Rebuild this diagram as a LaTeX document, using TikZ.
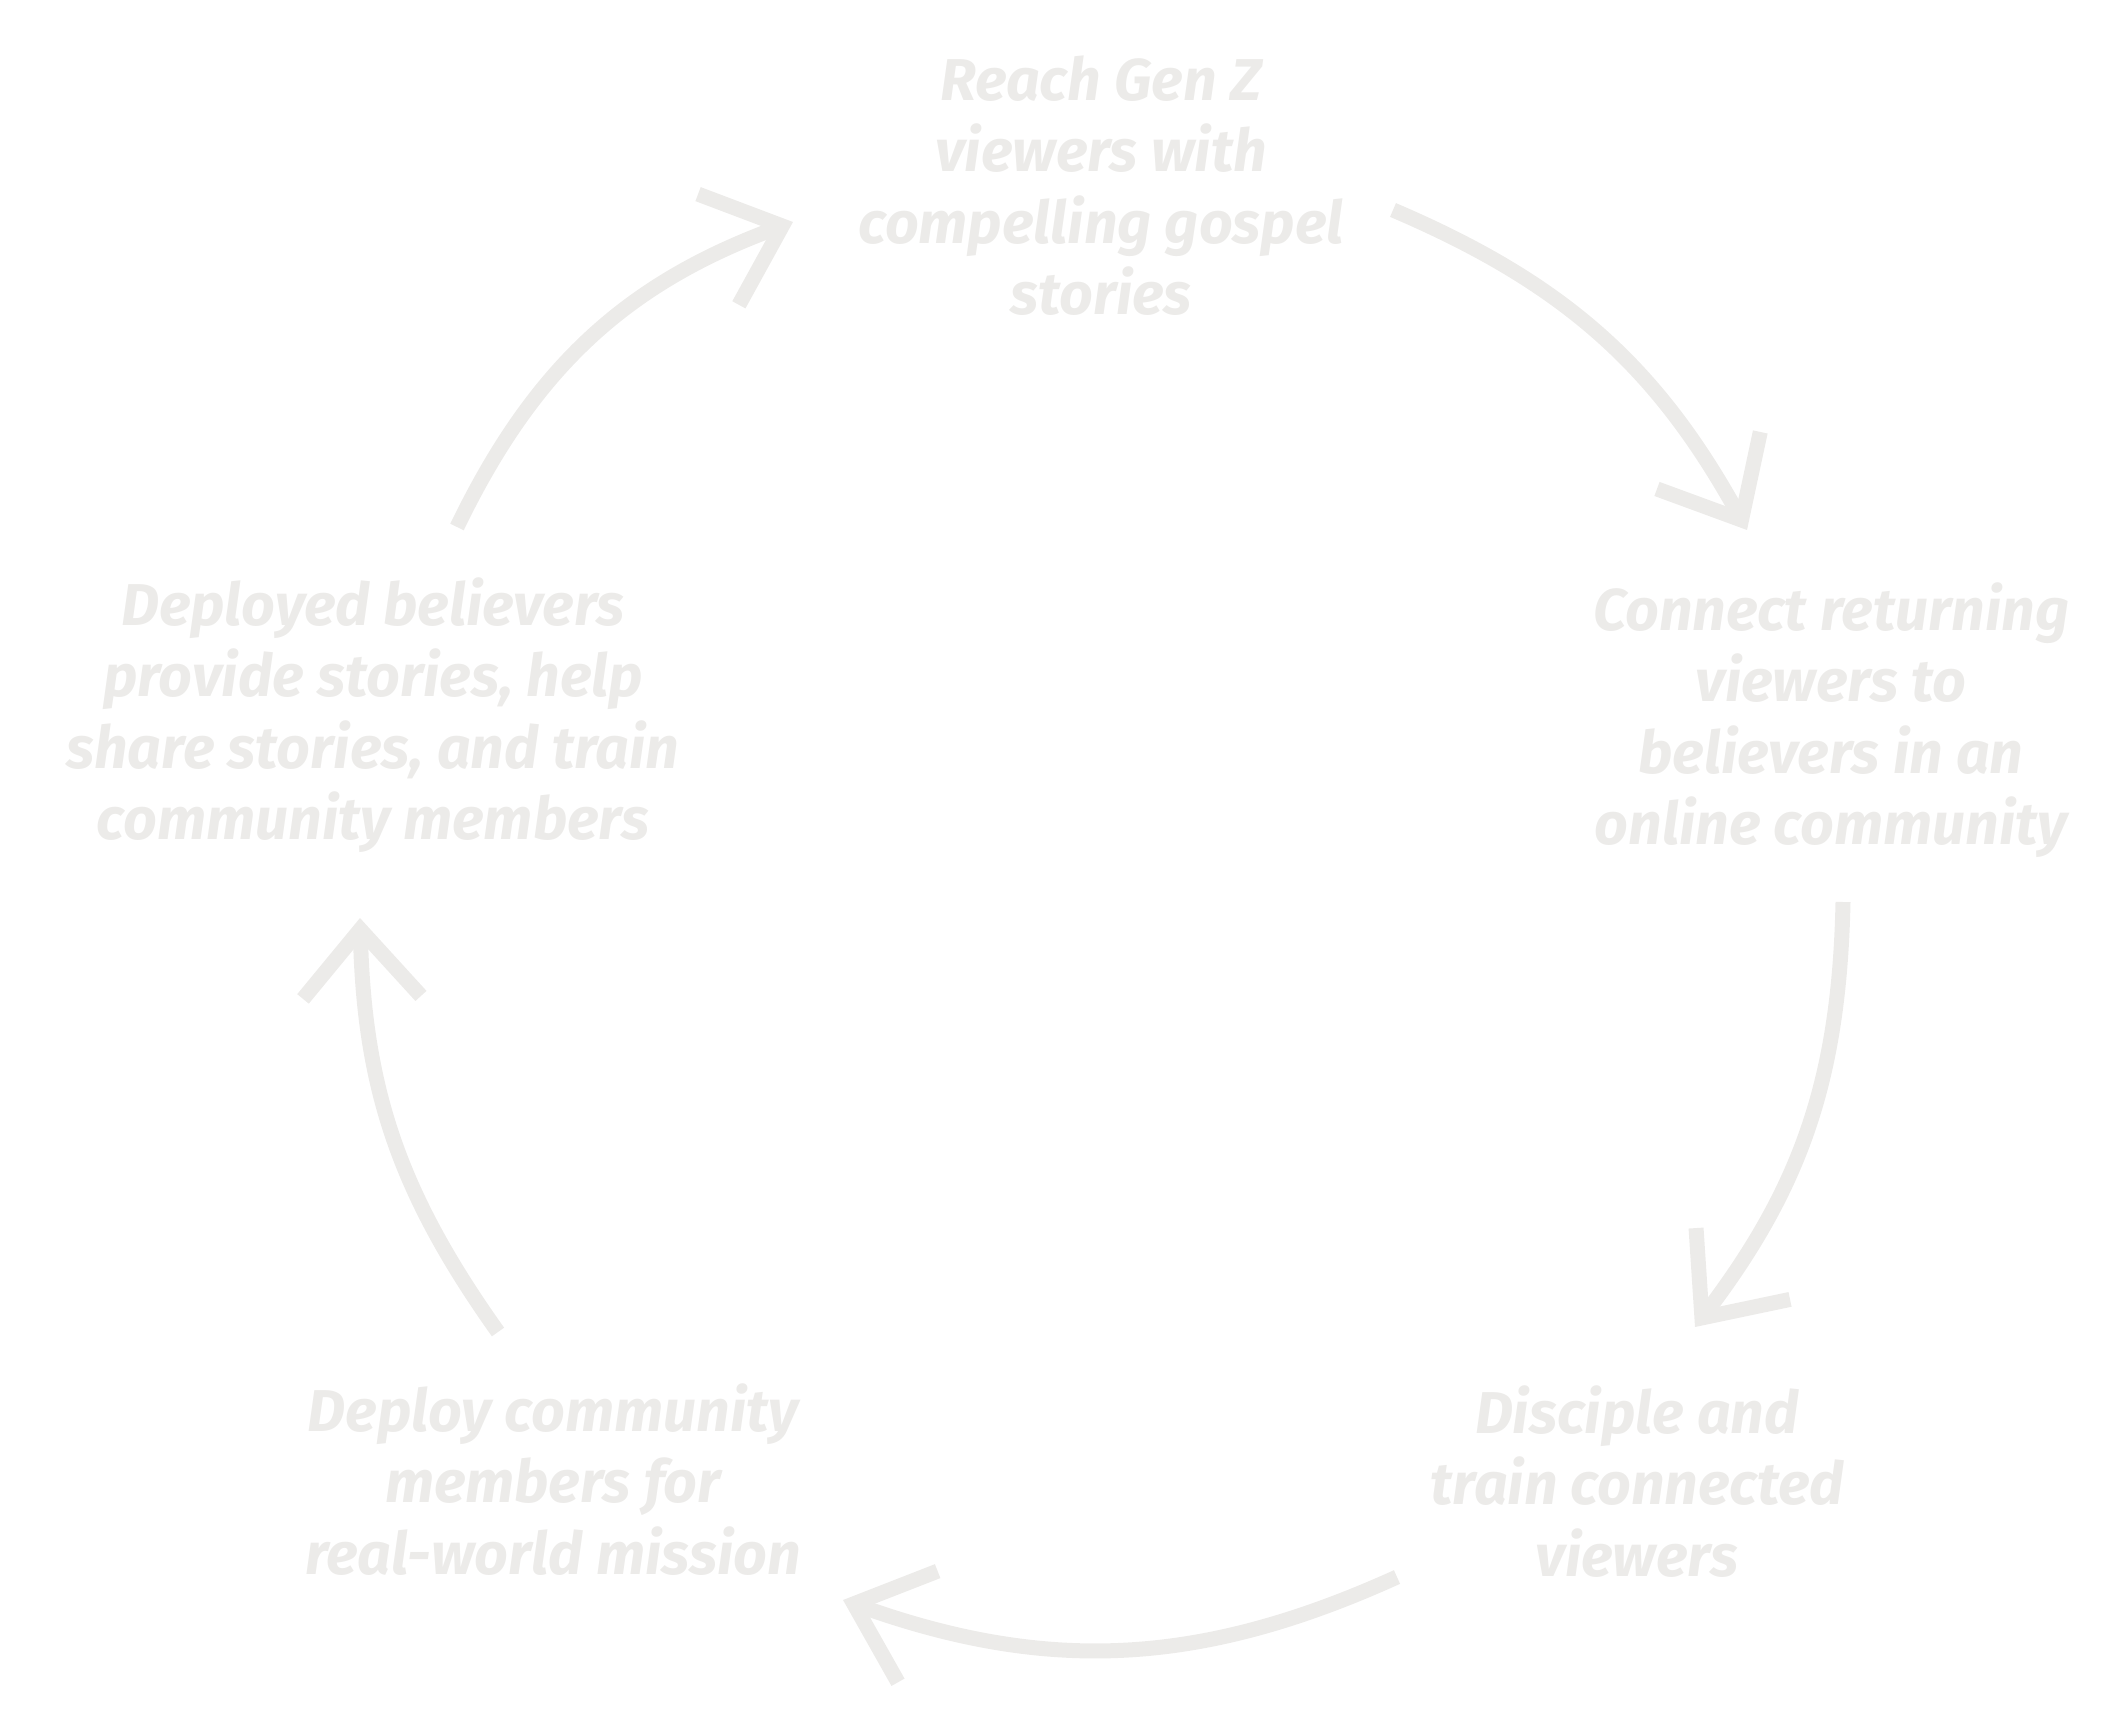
\documentclass[tikz,border=0pt]{standalone}
\usepackage{fontspec}
\setmainfont{Fira Sans}
\usetikzlibrary{arrows.meta}
\definecolor{cyclegray}{RGB}{236,235,233}

\begin{document}
\begin{tikzpicture}[x=1pt,y=1pt,yscale=-1,
  cycletext/.style={anchor=north,inner sep=0pt,align=center,text=cyclegray,
    font=\fontsize{59}{71.5}\selectfont\bfseries\itshape},
  cyclearrow/.style={draw=cyclegray,line width=15pt,
    -{Straight Barb[length=68pt,width=118pt]}}]
\useasboundingbox (0,0) rectangle (2117,1726);

% Text Nodes
\node[cycletext] (reach) at (1101,50) {\rule{0pt}{50pt}Reach Gen Z\\ viewers with\\ compelling gospel\\ stories};
\node[cycletext] (connect) at (1831,580) {\rule{0pt}{50pt}Connect returning\\ viewers to\\ believers in an\\ online community};
\node[cycletext] (disciple) at (1637,1383) {\rule{0pt}{50pt}Disciple and\\ train connected\\ viewers};
\node[cycletext] (deploy) at (553,1381) {\rule{0pt}{50pt}Deploy community\\ members for\\ real-world mission};
\node[cycletext] (deployed) at (373,575) {\rule{0pt}{50pt}Deployed believers\\ provide stories, help\\ share stories, and train\\ community members};

% Arrow ends
\coordinate (a1s) at (457,527);  \coordinate (a1e) at (793,222);
\coordinate (a2s) at (1393,210); \coordinate (a2e) at (1747,530);
\coordinate (a3s) at (1843,902); \coordinate (a3e) at (1695,1327);
\coordinate (a4s) at (1397,1577); \coordinate (a4e) at (843,1600);
\coordinate (a5s) at (498,1332); \coordinate (a5e) at (360,918);

% Curved Arrows
\draw[cyclearrow] (a1s) to[bend right=22] (a1e);
\draw[cyclearrow] (a2s) to[bend right=19] (a2e);
\draw[cyclearrow] (a3s) to[bend right=18] (a3e);
\draw[cyclearrow] (a4s) to[bend right=22] (a4e);
\draw[cyclearrow] (a5s) to[bend right=17] (a5e);

\end{tikzpicture}
\end{document}
